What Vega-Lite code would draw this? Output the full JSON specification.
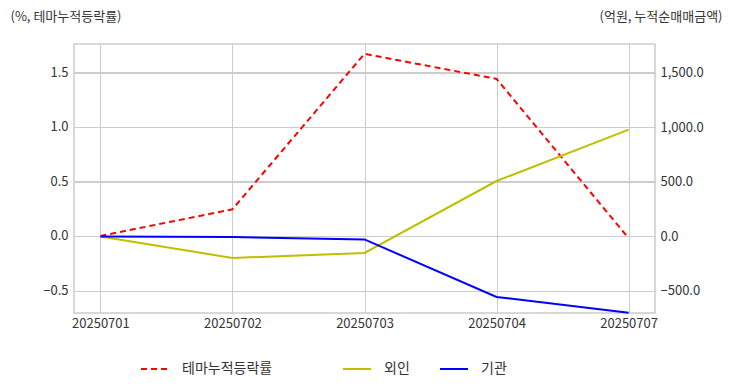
{
  "$schema": "https://vega.github.io/schema/vega-lite/v6.json",
  "autosize": "none",
  "width": 581,
  "height": 269,
  "padding": {"left": 74, "top": 44, "right": 77, "bottom": 79},
  "background": "#ffffff",
  "config": {
    "font": "Noto Sans CJK KR",
    "view": {"stroke": "#cccccc", "strokeWidth": 1.5},
    "axis": {
      "labelFont": "Noto Sans CJK KR",
      "titleFont": "Noto Sans CJK KR",
      "labelFontSize": 13,
      "labelColor": "#333333",
      "titleColor": "#333333",
      "titleFontWeight": "normal",
      "titleFontSize": 13,
      "gridColor": "#cccccc",
      "gridWidth": 1,
      "domain": false,
      "ticks": false
    },
    "legend": {
      "labelFont": "Noto Sans CJK KR",
      "labelFontSize": 14,
      "labelColor": "#333333"
    }
  },
  "datasets": {
    "theme": [
      {"date": "20250701", "series": "테마누적등락률", "value": 0.0},
      {"date": "20250702", "series": "테마누적등락률", "value": 0.245},
      {"date": "20250703", "series": "테마누적등락률", "value": 1.67},
      {"date": "20250704", "series": "테마누적등락률", "value": 1.44},
      {"date": "20250707", "series": "테마누적등락률", "value": -0.02}
    ],
    "flow": [
      {"date": "20250701", "series": "외인", "value": 0},
      {"date": "20250702", "series": "외인", "value": -197},
      {"date": "20250703", "series": "외인", "value": -151},
      {"date": "20250704", "series": "외인", "value": 509},
      {"date": "20250707", "series": "외인", "value": 980},
      {"date": "20250701", "series": "기관", "value": 0},
      {"date": "20250702", "series": "기관", "value": -5},
      {"date": "20250703", "series": "기관", "value": -27},
      {"date": "20250704", "series": "기관", "value": -555},
      {"date": "20250707", "series": "기관", "value": -700}
    ]
  },
  "layer": [
    {
      "data": {"name": "theme"},
      "mark": {"type": "line", "strokeWidth": 2, "strokeCap": "butt"},
      "encoding": {
        "x": {
          "field": "date", "type": "ordinal",
          "scale": {"type": "point", "padding": 0.2},
          "axis": {"title": null, "labelAngle": 0, "labelPadding": 4, "grid": true}
        },
        "y": {
          "field": "value", "type": "quantitative",
          "scale": {"domain": [-0.706, 1.76], "nice": false, "zero": false},
          "axis": {
            "orient": "left",
            "values": [-0.5, 0, 0.5, 1.0, 1.5],
            "format": ".1f",
            "labelPadding": 6,
            "grid": true,
            "title": "(%, 테마누적등락률)",
            "titleAngle": 0,
            "titleAlign": "left",
            "titleBaseline": "middle",
            "titleX": -64,
            "titleY": -28
          }
        },
        "color": {
          "field": "series", "type": "nominal",
          "scale": {"domain": ["테마누적등락률"], "range": ["#ff0000"]},
          "legend": {
            "title": null, "orient": "none", "legendX": 66, "legendY": 310,
            "symbolType": "stroke", "symbolSize": 784, "symbolStrokeWidth": 2,
            "labelOffset": 12
          }
        },
        "strokeDash": {
          "field": "series", "type": "nominal",
          "scale": {"domain": ["테마누적등락률"], "range": [[6, 4]]},
          "legend": {
            "title": null, "orient": "none", "legendX": 66, "legendY": 310,
            "symbolType": "stroke", "symbolSize": 784, "symbolStrokeWidth": 2,
            "labelOffset": 12
          }
        }
      }
    },
    {
      "data": {"name": "flow"},
      "mark": {"type": "line", "strokeWidth": 2},
      "encoding": {
        "x": {"field": "date", "type": "ordinal", "scale": {"type": "point", "padding": 0.2}},
        "y": {
          "field": "value", "type": "quantitative",
          "scale": {"domain": [-702, 1766], "nice": false, "zero": false},
          "axis": {
            "orient": "right",
            "values": [-500, 0, 500, 1000, 1500],
            "format": ",.1f",
            "labelPadding": 5,
            "grid": true,
            "title": "(억원, 누적순매매금액)",
            "titleAngle": 0,
            "titleAlign": "right",
            "titleBaseline": "middle",
            "titleX": 67,
            "titleY": -28
          }
        },
        "color": {
          "field": "series", "type": "nominal",
          "scale": {"domain": ["외인", "기관"], "range": ["#bfbf00", "#0000ff"]},
          "legend": {
            "title": null, "orient": "none", "direction": "horizontal",
            "legendX": 268, "legendY": 310,
            "symbolType": "stroke", "symbolSize": 784, "symbolStrokeWidth": 2,
            "labelOffset": 12, "columnPadding": 26
          }
        }
      }
    }
  ],
  "resolve": {"scale": {"y": "independent", "color": "independent", "strokeDash": "independent"}}
}
